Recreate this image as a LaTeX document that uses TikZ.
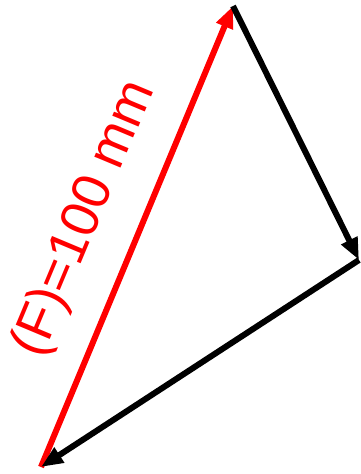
\documentclass[tikz,border=0pt]{standalone}
\usepackage{fontspec}
\setmainfont{Liberation Sans}
\usetikzlibrary{arrows.meta,positioning,calc}
\definecolor{forcered}{RGB}{255,0,0}

\begin{document}
\begin{tikzpicture}[
    x=0.02cm, y=-0.02cm,
    vec/.style={line width=0.12cm, -{Triangle[length=0.44cm, width=0.34cm]}},
    label/.style={text=forcered, font=\fontsize{30.5}{36}\selectfont, rotate=67.3}
]
    \useasboundingbox (0,0) rectangle (360,474);

    \coordinate (a) at (41,467);
    \coordinate (b) at (233,6);
    \coordinate (c) at (359,260);

    \draw[vec, forcered] (a) -- (b);
    \draw[vec, black] (b) -- (c);
    \draw[vec, black] (c) -- (a);

    \node[label] (force) at (85,219) {(F)=100 mm};
\end{tikzpicture}
\end{document}
